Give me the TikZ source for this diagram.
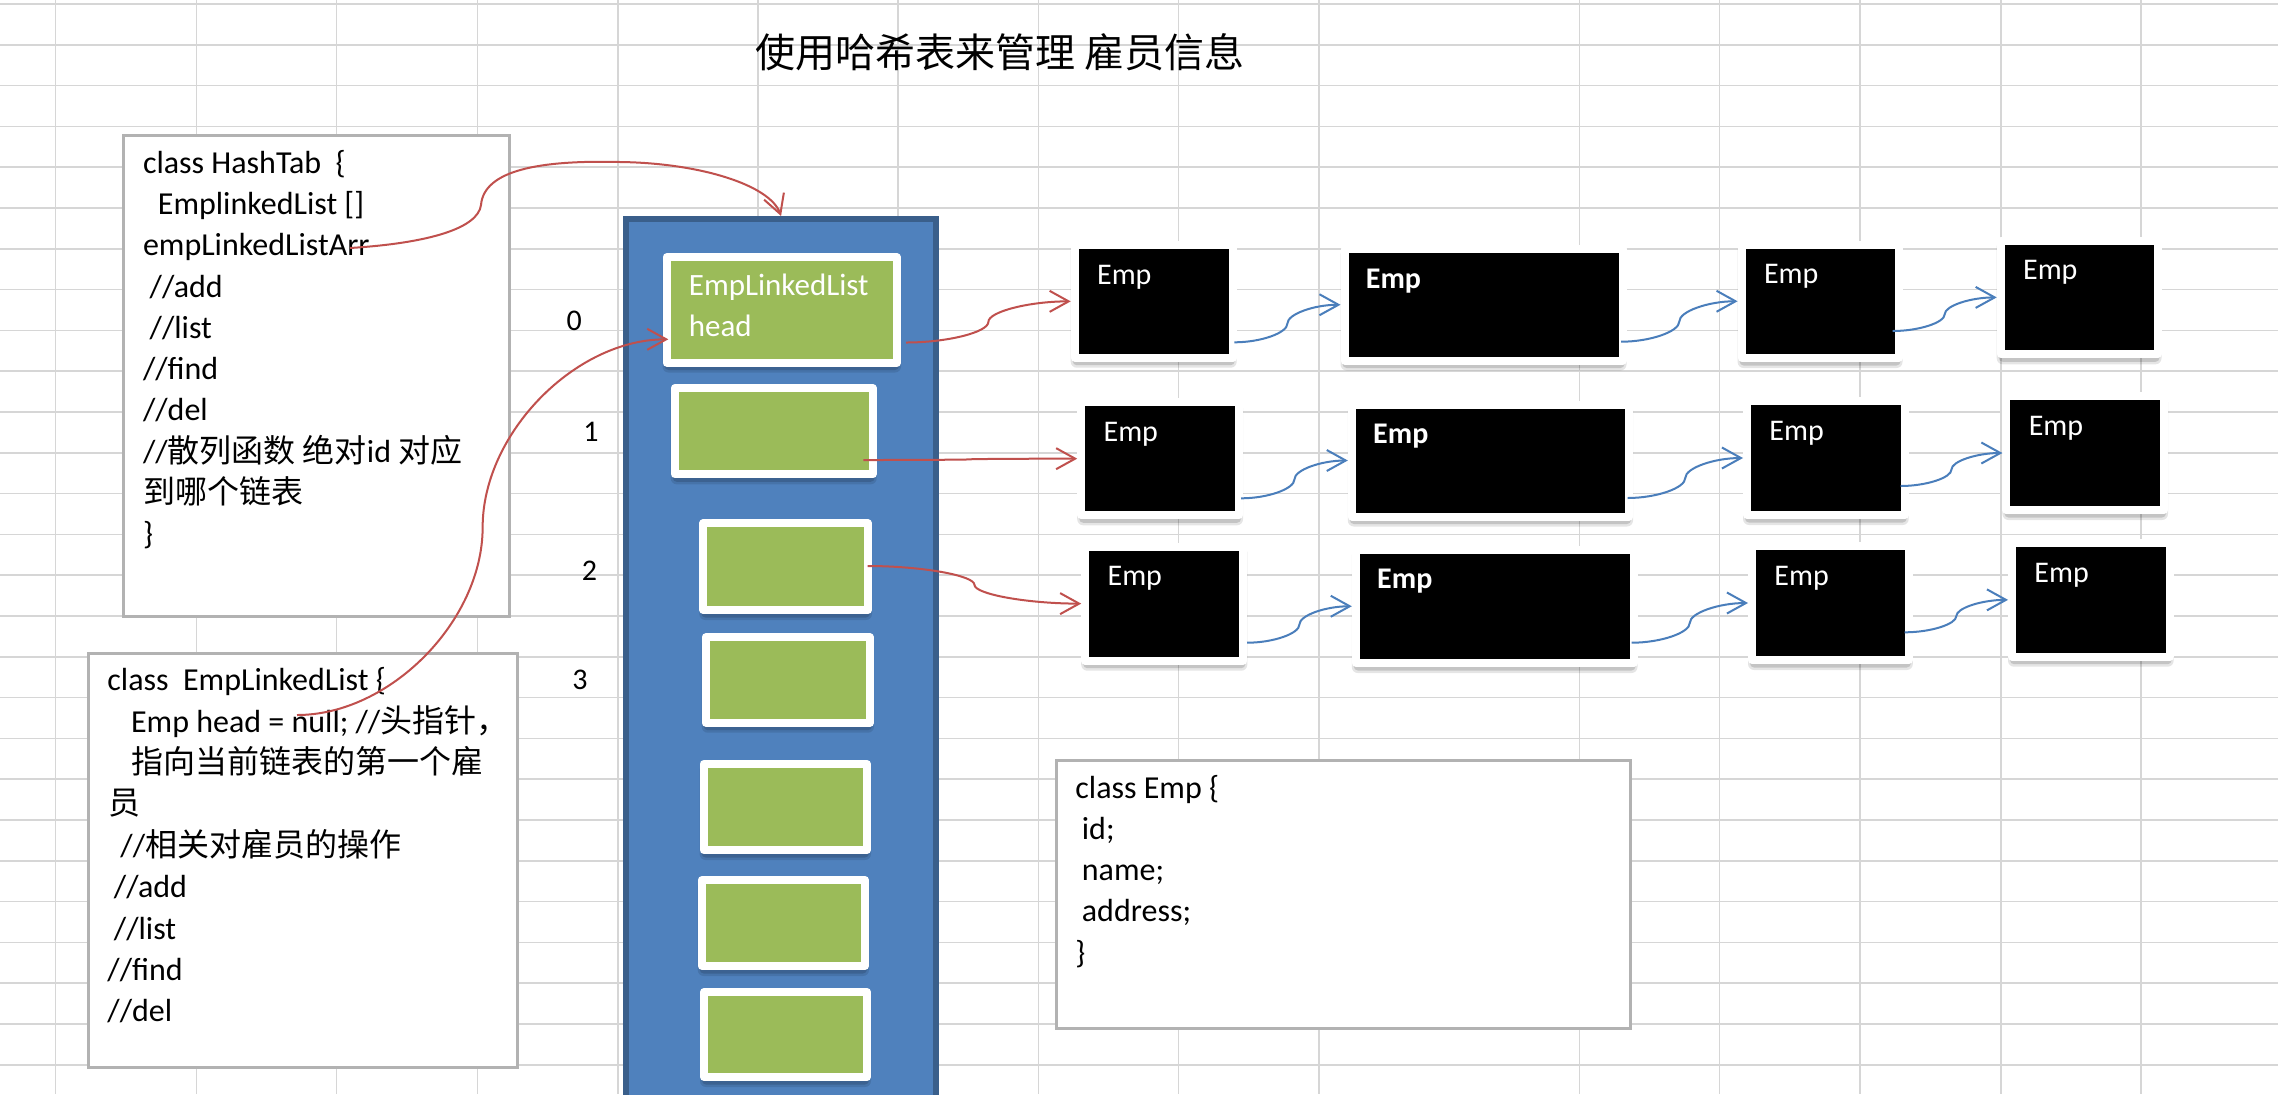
\documentclass[tikz,border=0pt]{standalone}
\usepackage{fontspec}
\setmainfont{Carlito}
\newfontfamily\cjk{Noto Sans CJK SC}
\usetikzlibrary{arrows.meta,fit,calc}

\definecolor{gridc}{RGB}{214,214,214}
\definecolor{boxline}{RGB}{178,178,178}
\definecolor{colfill}{HTML}{4F81BD}
\definecolor{coledge}{HTML}{3A5F8B}
\definecolor{slotgreen}{HTML}{9BBB59}
\definecolor{linkred}{HTML}{C0504D}
\definecolor{linkblue}{HTML}{4A7EBB}

\tikzset{
  gridline/.style={draw=gridc, line width=0.8pt},
  codebox/.style={draw=boxline, fill=white, line width=1.3pt, inner sep=0pt},
  codetext/.style={anchor=base west, inner sep=0pt, font=\fontsize{16}{19}\selectfont},
  rowlabel/.style={anchor=base, inner sep=0pt, font=\fontsize{15}{18}\selectfont},
  bucketcol/.style={draw=coledge, fill=colfill, line width=3pt, inner sep=0pt},
  slotbox/.style={draw=white, fill=slotgreen, line width=4pt, line join=round, inner sep=0pt},
  empbox/.style={draw=white, fill=black, line width=4pt, line join=round, inner sep=0pt},
  emplabel/.style={anchor=base west, inner sep=0pt, text=white, font=\fontsize{15}{18}\selectfont},
  slotlabel/.style={anchor=base west, inner sep=0pt, text=white, font=\fontsize{15.5}{18}\selectfont},
  linktip/.style={-{Straight Barb[length=9.5pt,width=10.5pt]}},
  redlink/.style={draw=linkred, line width=1pt, linktip},
  bluelink/.style={draw=linkblue, line width=1pt, linktip},
}

% white-framed box with a soft shadow underneath; corners are the outer frame edges
\newcommand\framedbox[6]{%
  \fill[black, opacity=.10, rounded corners=3pt] ({#3},{#4+4}) rectangle ({#5},{#6+6});
  \fill[black, opacity=.14, rounded corners=2pt] ({#3+2},{#4+3}) rectangle ({#5-2},{#6+3.5});
  \node[#1, fit={({#3+4},{#4+4}) ({#5-4},{#6-4})}] (#2) {};
}

% S-shaped connector: horizontal at both ends, vertical at the midpoint
\newcommand\officelink[3]{%
  \draw[#1] let \p1=(#2), \p2=(#3) in
    (\p1) .. controls ({\x1+((\x2)-(\x1))/4},\y1) and ({((\x1)+(\x2))/2},{\y1+((\y2)-(\y1))/4}) ..
    ({((\x1)+(\x2))/2},{((\y1)+(\y2))/2}) .. controls ({((\x1)+(\x2))/2},{\y1+3*((\y2)-(\y1))/4}) and ({\x1+3*((\x2)-(\x1))/4},\y2) .. (\p2);
}

\begin{document}
\begin{tikzpicture}[x=0.5pt, y=-0.5pt]
\useasboundingbox (0,0) rectangle (2278,1094);
\clip (0,0) rectangle (2278,1094);
\fill[white] (0,0) rectangle (2278,1094);

% spreadsheet grid
\foreach \gx in {55.5,196.5,336.6,477.6,617.7,757.9,898,1038.5,1178.5,1318.7,1579.5,1719.6,1859.8,2000.8,2141}
  \draw[gridline] (\gx,0) -- (\gx,1094);
\foreach \k in {0,...,26}
  \draw[gridline] (0,{4+40.8*\k}) -- (2278,{4+40.8*\k});

% title
\node[anchor=base west, inner sep=0pt, font=\cjk\fontsize{20}{24}\selectfont] (title) at (755,67) {使用哈希表来管理 雇员信息};

% class HashTab
\node[codebox, fit={(123.3,135.3) (509.5,616.4)}] (hashtab) {};
\node[codetext] (ht0) at (142.6,173.3) {class HashTab\ \ \{};
\node[codetext] (ht1) at (157.5,214.6) {EmplinkedList []};
\node[codetext] (ht2) at (142.6,255.8) {empLinkedListArr};
\node[codetext] (ht3) at (149.3,297) {//add};
\node[codetext] (ht4) at (149.3,338.3) {//list};
\node[codetext] (ht5) at (142.6,379.6) {//find};
\node[codetext] (ht6) at (142.6,420.8) {//del};
\node[codetext] (ht7) at (142.6,462) {//{\cjk 散列函数} {\cjk 绝对}id {\cjk 对应}};
\node[codetext] (ht8) at (142.6,503.3) {{\cjk 到哪个链表}};
\node[codetext] (ht9) at (142.6,544.6) {\}};

% class EmpLinkedList
\node[codebox, fit={(88.3,653.3) (517.7,1067.7)}] (elist) {};
\node[codetext] (el0) at (107,690.7) {class\ \ EmpLinkedList \{};
\node[codetext] (el1) at (130.7,732.1) {Emp head = null; //{\cjk 头指针，}};
\node[codetext] (el2) at (131,773.5) {{\cjk 指向当前链表的第一个雇}};
\node[codetext] (el3) at (108,814.9) {{\cjk 员}};
\node[codetext] (el4) at (120,856.3) {//{\cjk 相关对雇员的操作}};
\node[codetext] (el5) at (113.5,897.7) {//add};
\node[codetext] (el6) at (113.5,939.1) {//list};
\node[codetext] (el7) at (107,980.5) {//find};
\node[codetext] (el8) at (107,1021.9) {//del};

% class Emp
\node[codebox, fit={(1056.7,760.3) (1630.3,1028.7)}] (empcls) {};
\node[codetext] (ec0) at (1075,798.3) {class Emp \{};
\node[codetext] (ec1) at (1081.5,839.5) {id;};
\node[codetext] (ec2) at (1081.5,880.7) {name;};
\node[codetext] (ec3) at (1081.5,921.9) {address;};
\node[codetext] (ec4) at (1075,963.1) {\}};

% row indices
\node[rowlabel] (r0) at (574.3,330) {0};
\node[rowlabel] (r1) at (591,441.7) {1};
\node[rowlabel] (r2) at (589.5,580.7) {2};
\node[rowlabel] (r3) at (580,689.3) {3};

% bucket array
\node[bucketcol, fit={(625.7,219) (936.4,1130)}] (col) {};
\foreach \n/\a/\b/\c/\d in {g0/662.5/253.3/901/366.5, g1/670.7/384/876.7/478.3, g2/699.3/519.3/872/614,
    g3/701.7/633.3/874/726.7, g4/699.6/760/871/854, g5/697.7/876/869/970, g6/700/988/871/1081}
  {\framedbox{slotbox}{\n}{\a}{\b}{\c}{\d}}
\node[slotlabel] (g0a) at ($(g0.north west)+(26,42.4)$) {EmpLinkedList};
\node[slotlabel] (g0b) at ($(g0.north west)+(26,83.4)$) {head};

% employee nodes
\foreach \n/\a/\b/\c/\d in {
    e00/1070.7/241/1236.7/361.7, e01/1340.5/245/1626.5/364.5, e02/1737.6/240.5/1902.5/362, e03/1996.7/236.5/2161.5/358.3,
    e10/1077.2/398/1243/519.3, e11/1347.8/400.5/1633/520.5, e12/1743/397/1908.7/519, e13/2002.4/392/2168/514,
    e20/1081.2/542.5/1247.3/664.7, e21/1351.8/545.5/1637.5/667, e22/1748/542/1912.8/664, e23/2008/539/2173.6/660.7}
  {\framedbox{empbox}{\n}{\a}{\b}{\c}{\d}}
\foreach \n in {e00,e02,e03,e10,e12,e13,e20,e22,e23}
  \node[emplabel] (\n-t) at ($(\n.north west)+(26,43)$) {Emp};
\foreach \n in {e01,e11,e21}
  \node[emplabel, font=\fontsize{15}{18}\selectfont\bfseries] (\n-t) at ($(\n.north west)+(25,43)$) {Emp};

% connector end points
\coordinate (arrsrc) at (350,248);
\coordinate (elsrc) at (297,715);
\coordinate (g0in) at (668.3,339.3);
\coordinate (g0out) at (906,342.5);
\coordinate (g1out) at (863.3,460);
\coordinate (g2out) at (867.7,566);
\coordinate (s00) at (1234.3,342.3);
\coordinate (s01) at (1621,341.7);
\coordinate (s02) at (1892.7,331);
\coordinate (s10) at (1241,498.3);
\coordinate (s11) at (1627.5,498);
\coordinate (s12) at (1900.5,486);
\coordinate (s20) at (1247,642.7);
\coordinate (s21) at (1631.6,642.7);
\coordinate (s22) at (1904.6,632.3);

% references into the bucket array
\draw[redlink] (arrsrc) .. controls (430,243) and (478,228) .. (481,205)
  .. controls (484,170) and (540,160) .. (620,162)
  .. controls (700,163) and (770,185) .. (col.north);
\officelink{redlink}{elsrc}{g0in}
\officelink{redlink}{g0out}{e00.west}
\officelink{redlink}{g1out}{e10.west}
\officelink{redlink}{g2out}{e20.west}

% next pointers along each list
\officelink{bluelink}{s00}{e01.west}
\officelink{bluelink}{s01}{e02.west}
\officelink{bluelink}{s02}{e03.west}
\officelink{bluelink}{s10}{e11.west}
\officelink{bluelink}{s11}{e12.west}
\officelink{bluelink}{s12}{e13.west}
\officelink{bluelink}{s20}{e21.west}
\officelink{bluelink}{s21}{e22.west}
\officelink{bluelink}{s22}{e23.west}
\end{tikzpicture}
\end{document}
